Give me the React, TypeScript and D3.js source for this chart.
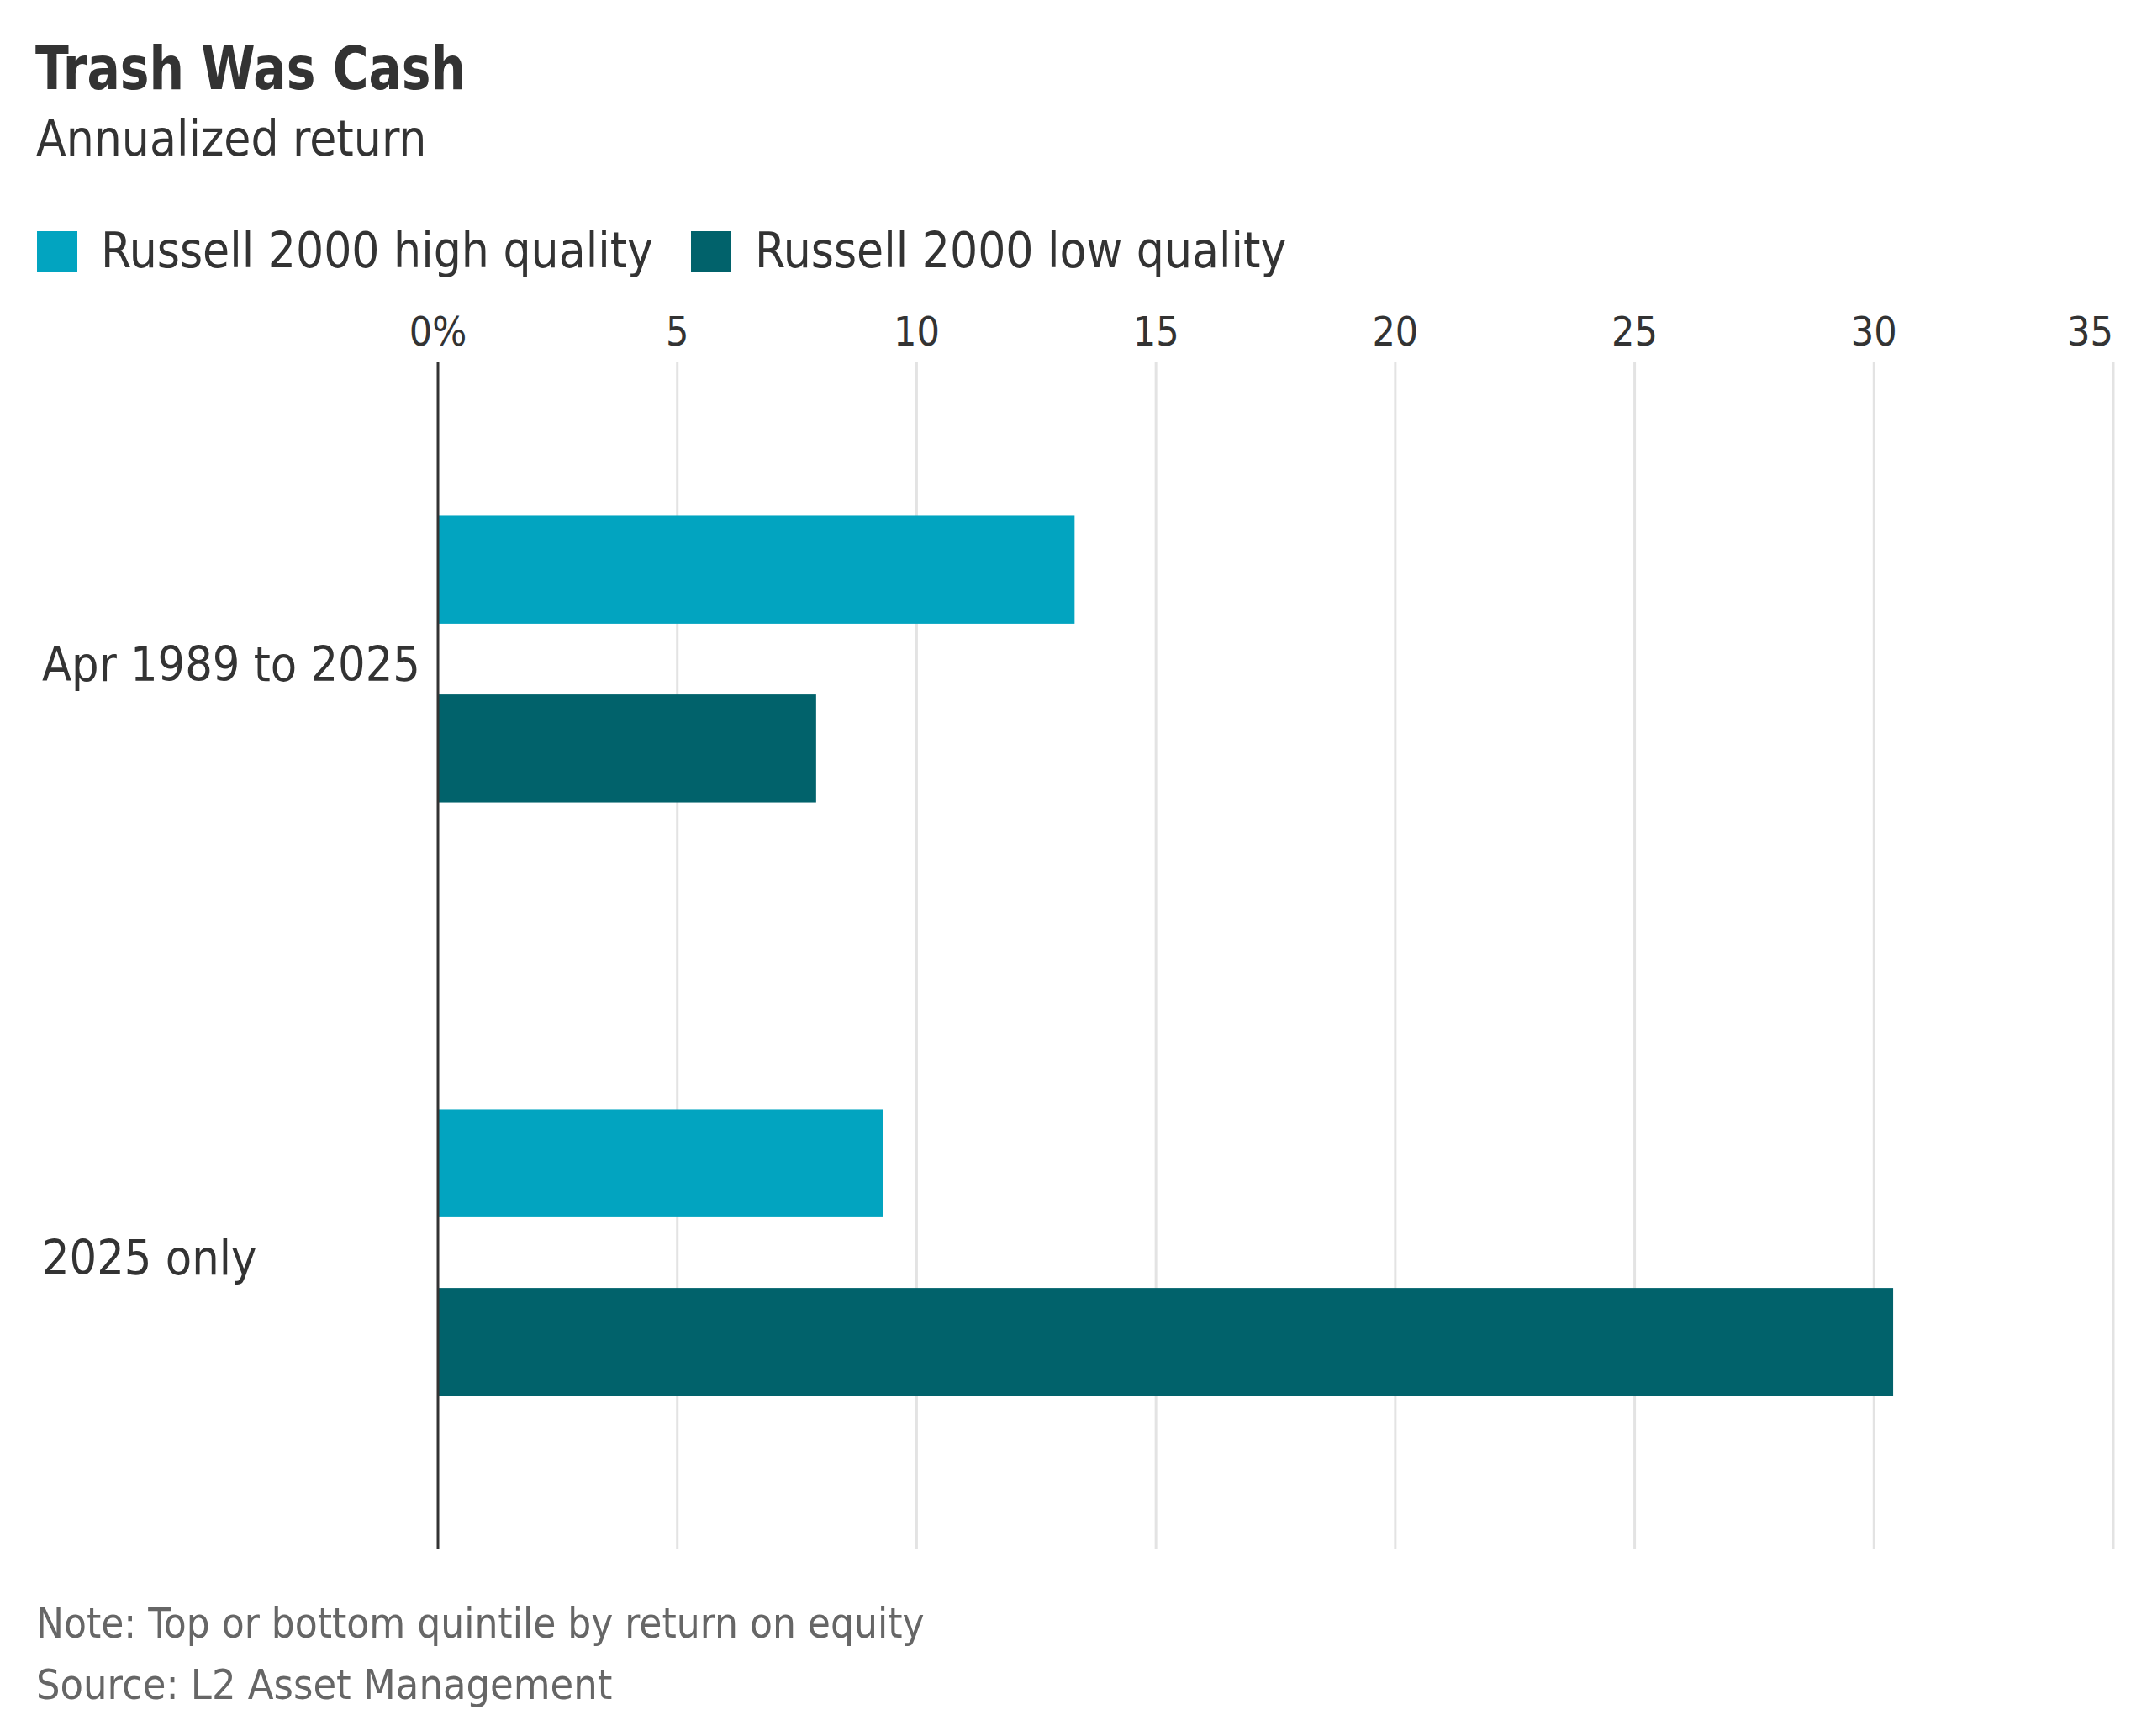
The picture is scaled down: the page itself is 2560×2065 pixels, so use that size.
import React from 'react';
import * as d3 from 'd3';

const periods = ['Apr 1989 to 2025', '2025 only'];
const seriesNames = ['Russell 2000 high quality', 'Russell 2000 low quality'];
const seriesColors = ['#02a4c0', '#01626b'];
const highQuality = [13.3, 9.3];
const lowQuality = [7.9, 30.4];
const xTicks = [0, 5, 10, 15, 20, 25, 30, 35];

const W = 2560;
const H = 2065;
const font = '"Liberation Sans Narrow", "DejaVu Sans Condensed", sans-serif';

const App: React.FC = () => {
  const x = d3.scaleLinear().domain([0, 35]).range([521, 2514]);
  const y = d3.scaleBand<string>().domain(periods).range([431, 1843]);
  const inner = d3
    .scaleBand<string>()
    .domain(seriesNames)
    .range([0, y.bandwidth()])
    .paddingInner(0.396)
    .paddingOuter(0.858);

  const values = [highQuality, lowQuality];
  const lastTick = xTicks[xTicks.length - 1];

  return (
    <svg
      width={W}
      height={H}
      viewBox={`0 0 ${W} ${H}`}
      style={{ position: 'absolute', left: 0, top: 0, background: '#fff' }}
      fontFamily={font}
    >
      {/* Title block */}
      <text
        x={42}
        y={106}
        fontSize={72}
        fontWeight="bold"
        fill="#333"
        textLength={512}
        lengthAdjust="spacingAndGlyphs"
      >
        Trash Was Cash
      </text>
      <text x={43} y={185} fontSize={58} fill="#333">
        Annualized return
      </text>

      {/* Legend */}
      {seriesNames.map((name, i) => {
        const lx = i === 0 ? 44 : 822;
        return (
          <g key={`legend-${i}`}>
            <rect x={lx} y={275} width={48} height={48} fill={seriesColors[i]} />
            <text x={lx + 76} y={318} fontSize={58} fill="#333">
              {name}
            </text>
          </g>
        );
      })}

      {/* Grid lines and tick labels */}
      {xTicks.map((t) => (
        <g key={`tick-${t}`}>
          {t !== 0 && (
            <line x1={x(t)} x2={x(t)} y1={431} y2={1843} stroke="#e3e3e3" strokeWidth={3} />
          )}
          <text
            x={x(t)}
            y={411}
            fontSize={48}
            textAnchor={t === lastTick ? 'end' : 'middle'}
            fill="#333"
          >
            {t === 0 ? '0%' : t}
          </text>
        </g>
      ))}

      {/* Bars */}
      {periods.map((p, gi) => (
        <g key={`group-${gi}`} transform={`translate(0, ${y(p)})`}>
          {seriesNames.map((s, si) => (
            <rect
              key={`bar-${gi}-${si}`}
              x={x(0)}
              y={inner(s)}
              width={x(values[si][gi]) - x(0)}
              height={inner.bandwidth()}
              fill={seriesColors[si]}
            />
          ))}
          <text x={50} y={y.bandwidth() / 2 + 26} fontSize={57} fill="#333">
            {p}
          </text>
        </g>
      ))}

      {/* Zero line */}
      <line x1={x(0)} x2={x(0)} y1={431} y2={1843} stroke="#333" strokeWidth={3} />

      {/* Footer */}
      <text x={43} y={1948} fontSize={49} fill="#666">
        Note: Top or bottom quintile by return on equity
      </text>
      <text x={43} y={2021} fontSize={50} fill="#666">
        Source: L2 Asset Management
      </text>
    </svg>
  );
};

export default App;
